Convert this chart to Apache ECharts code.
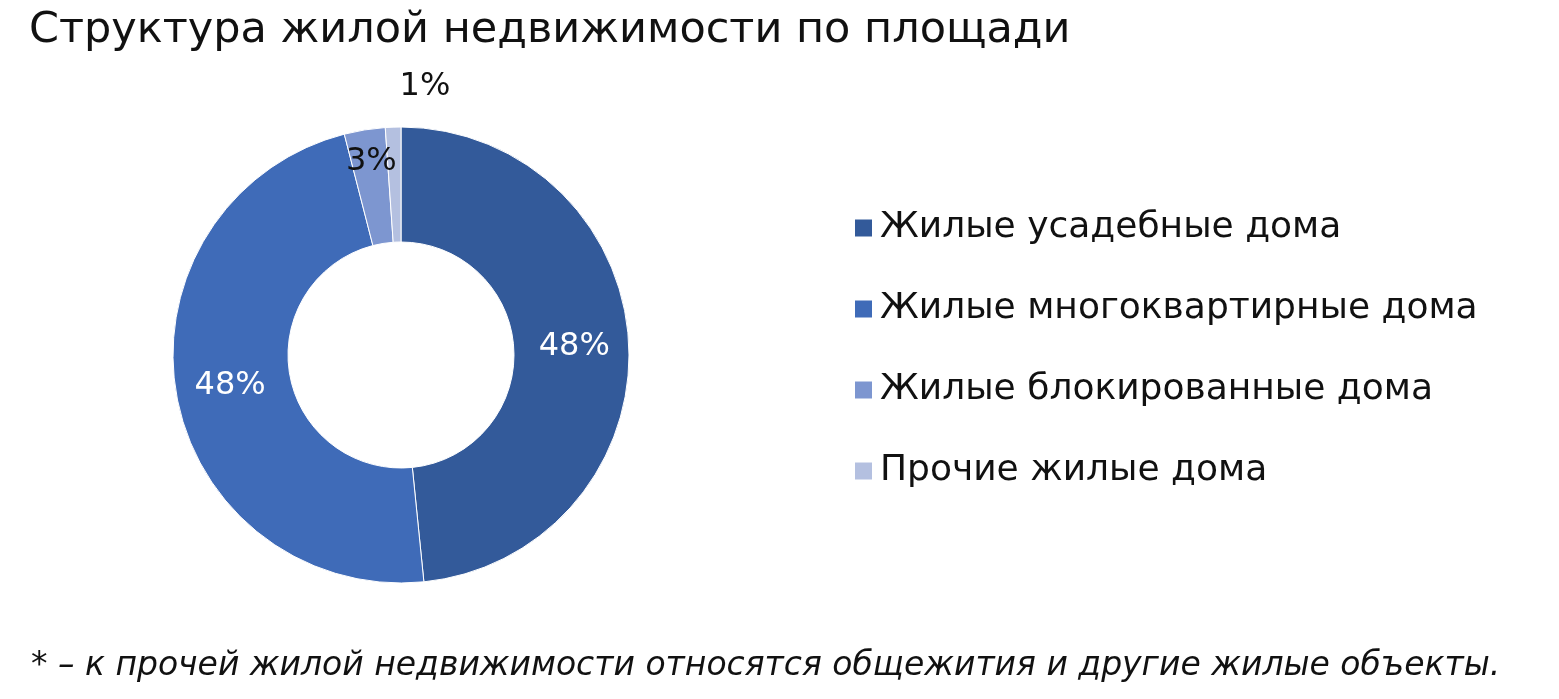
<!DOCTYPE html>
<html><head><meta charset="utf-8">
<script src="https://cdn.jsdelivr.net/npm/echarts@6/dist/echarts.min.js"></script>
<style>html,body{margin:0;background:#fff}#c{width:1559px;height:699px}</style>
</head><body><div id="c"></div>
<script>
const categories = ['Жилые усадебные дома','Жилые многоквартирные дома','Жилые блокированные дома','Прочие жилые дома'];
const values = [48.4, 47.6, 2.9, 1.1];
const colors = ['#335a9a','#3f6bb8','#7d96d0','#b4c0e0'];
const labelColors = ['#fff','#fff','#111','#111'];
const labelOffsets = [[0,0],[0,0],[-2,-22],[30,-95]];
const F = 'DejaVu Sans';
const chart = echarts.init(document.getElementById('c'));
chart.setOption({
  animation:false,
  title:[{text:'Структура жилой недвижимости по площади',left:24,top:4,textStyle:{fontFamily:F,fontSize:43,fontWeight:'normal',color:'#111'}},
         {text:'* – к прочей жилой недвижимости относятся общежития и другие жилые объекты.',left:26,top:645,textStyle:{fontFamily:F,fontSize:33,fontStyle:'italic',fontWeight:'normal',color:'#111'}}],
  legend:{orient:'vertical',left:848,top:205,itemWidth:19,itemHeight:19,itemGap:45,icon:'rect',
    textStyle:{fontFamily:F,fontSize:36,color:'#111',padding:[0,0,0,2]},data:categories},
  series:[{type:'pie',center:[401,355],radius:[113,228],startAngle:90,clockwise:true,
    data:categories.map((n,i)=>({name:n,value:values[i],itemStyle:{color:colors[i]},
      label:{position:'inside',color:labelColors[i],offset:labelOffsets[i]}})),
    label:{fontFamily:F,fontSize:32,formatter:p=>Math.round(p.percent)+'%'},
    labelLine:{show:false},
    itemStyle:{borderColor:'#fff',borderWidth:1}
  }]
});
</script></body></html>
